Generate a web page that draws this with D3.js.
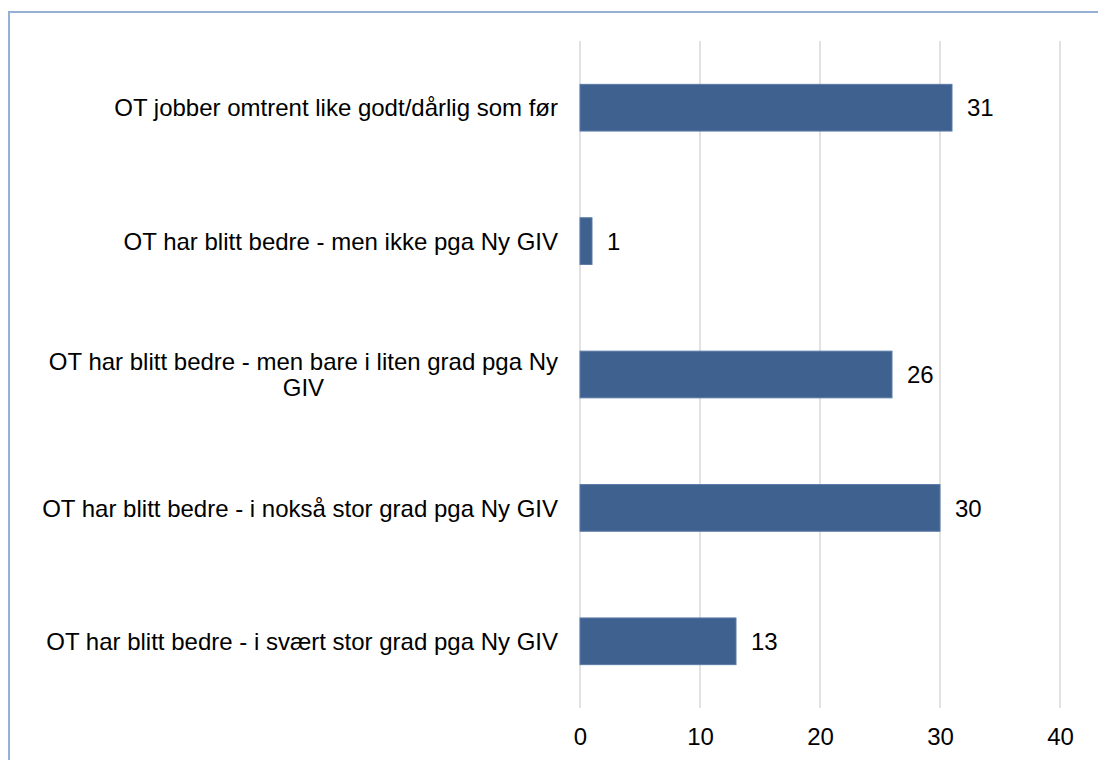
<!DOCTYPE html>
<html>
<head>
<meta charset="utf-8">
<script src="https://cdn.jsdelivr.net/npm/d3@7"></script>
<style>
  body { margin: 0; background: #fff; }
  text { font-family: "Liberation Sans", Arial, sans-serif; fill: #000; }
</style>
</head>
<body>
<div id="chart"></div>
<script>
// data
var categories = [
  ["OT jobber omtrent like godt/dårlig som før"],
  ["OT har blitt bedre - men ikke pga Ny GIV"],
  ["OT har blitt bedre - men bare i liten grad pga Ny", "GIV"],
  ["OT har blitt bedre - i nokså stor grad pga Ny GIV"],
  ["OT har blitt bedre - i svært stor grad pga Ny GIV"]
];
var values = [31, 1, 26, 30, 13];
var ticks = [0, 10, 20, 30, 40];

var svgWidth = 1098, svgHeight = 760;
var margin = {top: 41, left: 580};
var plotH = 667;

var svg = d3.select("#chart").append("svg")
    .attr("width", svgWidth)
    .attr("height", svgHeight);

// outer frame
svg.append("rect")
    .attr("x", 9).attr("y", 12)
    .attr("width", 1120).attr("height", 800)
    .attr("fill", "none")
    .attr("stroke", "#95b0d2")
    .attr("stroke-width", 2);

var g = svg.append("g")
    .attr("transform", "translate(" + margin.left + "," + margin.top + ")");

var x = d3.scaleLinear().domain([0, 40]).range([0, 480]);
var y = d3.scaleBand()
    .domain(d3.range(categories.length))
    .range([0, plotH])
    .paddingInner(0.65)
    .paddingOuter(0.325);

// gridlines
g.selectAll(".grid")
    .data(ticks)
  .enter().append("line")
    .attr("x1", d => x(d)).attr("x2", d => x(d))
    .attr("y1", 0).attr("y2", plotH)
    .attr("stroke", "#d9d9d9")
    .attr("stroke-width", 1.5);

// bars
g.selectAll(".bar")
    .data(values)
  .enter().append("rect")
    .attr("class", "bar")
    .attr("x", x(0))
    .attr("y", (d, i) => y(i))
    .attr("width", d => x(d) - x(0))
    .attr("height", y.bandwidth())
    .attr("fill", "#3e6190")
    .attr("stroke", "#5a7aa6")
    .attr("stroke-width", 1);

// value labels
g.selectAll(".val")
    .data(values)
  .enter().append("text")
    .attr("x", d => x(d) + 15)
    .attr("y", (d, i) => y(i) + y.bandwidth() / 2)
    .attr("dy", "0.36em")
    .style("font-size", "24px")
    .text(d => d);

// category labels (lines centred on each other, block right-aligned)
categories.forEach(function(lines, i) {
  var t = g.append("text")
      .attr("text-anchor", "middle")
      .style("font-size", "24px");
  var lh = 26;
  var cy = y(i) + y.bandwidth() / 2 - (lines.length - 1) * lh / 2;
  lines.forEach(function(l, j) {
    t.append("tspan")
      .attr("y", cy + j * lh)
      .attr("dy", "0.36em")
      .text(l);
  });
  var maxW = d3.max(t.selectAll("tspan").nodes(), n => n.getComputedTextLength());
  t.selectAll("tspan").attr("x", -22 - maxW / 2);
});

// x axis
var xAxis = d3.axisBottom(x).tickValues(ticks).tickSize(0).tickPadding(20);
var ax = g.append("g")
    .attr("transform", "translate(0," + plotH + ")")
    .call(xAxis);
ax.select(".domain").remove();
ax.selectAll("text")
    .style("font-size", "24px")
    .style("font-family", "Liberation Sans, Arial, sans-serif")
    .attr("fill", "#000");
</script>
</body>
</html>
